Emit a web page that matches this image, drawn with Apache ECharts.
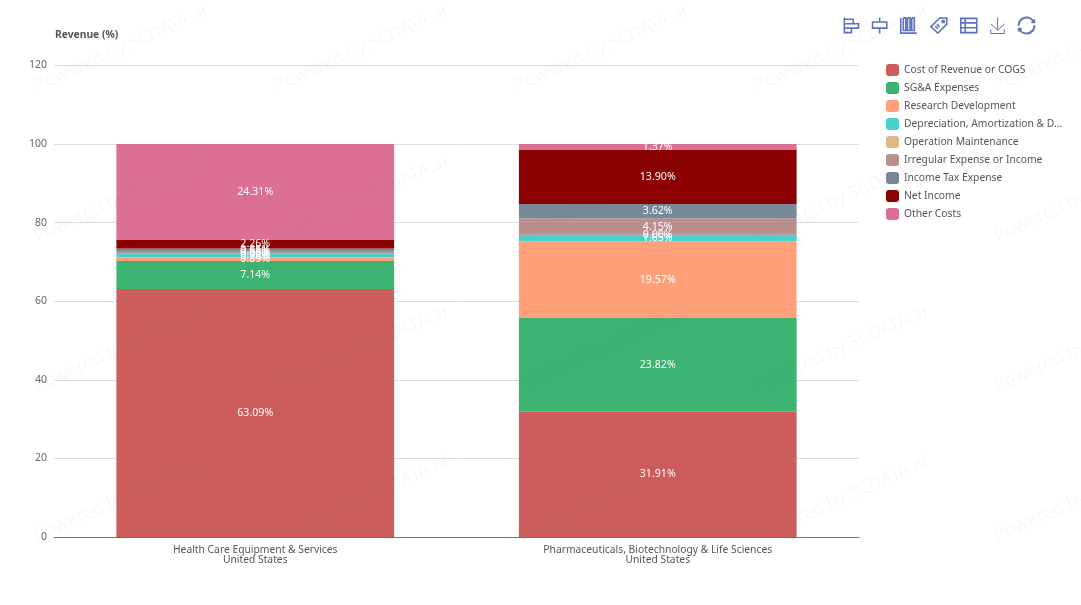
<!DOCTYPE html>
<html><head><meta charset="utf-8">
<style>html,body{margin:0;padding:0;background:#fff}#c{width:1081px;height:605px}</style>
<script src="https://cdn.jsdelivr.net/npm/echarts@6/dist/echarts.min.js"></script>
</head><body><div id="c"></div>
<script>
const categories = ['Health Care Equipment & Services\nUnited States','Pharmaceuticals, Biotechnology & Life Sciences\nUnited States'];
const cogs = [63.09,31.91];
const sga = [7.14,23.82];
const rnd = [0.89,19.57];
const dna = [0.98,1.65];
const opm = [0.00,0.00];
const irregular = [0.68,4.15];
const tax = [0.65,3.62];
const netIncome = [2.26,13.90];
const otherCosts = [24.31,1.37];
const seriesNames = ['Cost of Revenue or COGS','SG&A Expenses','Research Development','Depreciation, Amortization & Depletion','Operation Maintenance','Irregular Expense or Income','Income Tax Expense','Net Income','Other Costs'];
const seriesValues = [cogs,sga,rnd,dna,opm,irregular,tax,netIncome,otherCosts];
const colors = ['#cd5c5c','#3cb371','#ffa07a','#48d1cc','#deb887','#bc8f8f','#778899','#8b0000','#db7093'];
const font = '"Noto Sans"';
const wm = [];
for (let r=0;r<4;r++) for (let k=0;k<5;k++) {
  wm.push({type:'text',x:39+k*240,y:95+r*150,rotation:Math.PI*24/180,silent:true,z:100,
    style:{text:'Powered by SCDATA.ai',fill:'rgba(120,120,120,0.05)',font:'18px '+font,textVerticalAlign:'bottom'}});
}
const iconColor = '#5f72bd';
const chart = echarts.init(document.getElementById('c'),null,{renderer:'canvas'});
const thick = {borderColor:iconColor,color:'none',borderWidth:1.6};
chart.setOption({
  animation:false,
  color:colors,
  textStyle:{fontFamily:font},
  graphic:wm,
  grid:{left:54,right:222,top:65.5,bottom:68,containLabel:false},
  toolbox:{right:29,top:0,itemSize:16,itemGap:9,
    iconStyle:{borderColor:iconColor,color:'none',borderWidth:1},
    feature:{
      myA:{show:true,title:'a',iconStyle:thick,icon:'path://M2 1V19M2 3H12V8H2M2 8H18V13H2M2 13H10V18H2',onclick(){}},
      myB:{show:true,title:'b',iconStyle:thick,icon:'path://M10 1V6M10 13V19M2 6H18V13H2Z',onclick(){}},
      myC:{show:true,title:'c',iconStyle:thick,icon:'path://M1 1V19H20M4 1V16H7V1H4M9 1V16H12V1H9M14 1V16H17V1H14',onclick(){}},
      myD:{show:true,title:'d',iconStyle:thick,icon:'path://M1 12L11 2H19V9L9 19ZM14 5H16V7H14ZM6 11L9 14M8 9L11 12',onclick(){}},
      myE:{show:true,title:'e',iconStyle:thick,icon:'path://M1 2H19V18H1ZM1 7H19M1 12.5H19M6 2V18',onclick(){}},
      saveAsImage:{show:true},
      restore:{show:true,iconStyle:{borderColor:iconColor,color:'none',borderWidth:2}}
    }},
  legend:{orient:'vertical',left:881,top:59,itemWidth:13,itemHeight:12,itemGap:6,
    icon:'roundRect',
    textStyle:{color:'#555',fontSize:10.3,fontFamily:font},
    formatter:n=>n.length>30?n.slice(0,30)+'...':n,
    data:seriesNames},
  xAxis:{type:'category',data:categories,
    axisTick:{show:false},
    axisLine:{lineStyle:{color:'#6e7079'}},
    axisLabel:{color:'#555',fontSize:10.3,lineHeight:10,margin:8,interval:0}},
  yAxis:{type:'value',min:0,max:120,interval:20,name:'Revenue (%)',
    nameLocation:'end',nameGap:25,
    nameTextStyle:{color:'#555',fontSize:10.3,fontWeight:'bold',align:'left',padding:[0,0,0,1]},
    axisLine:{show:false},axisTick:{show:false},
    axisLabel:{color:'#666',fontSize:10.5,margin:7},
    splitLine:{lineStyle:{color:'#dcdde2'}}},
  series:seriesNames.map((n,i)=>({
    name:n,type:'bar',stack:'total',barWidth:'69%',data:seriesValues[i],
    label:{show:true,position:'inside',color:'#fff',fontSize:10.6,fontFamily:font,formatter:p=>p.value.toFixed(2)+'%'}
  }))
});
</script></body></html>
